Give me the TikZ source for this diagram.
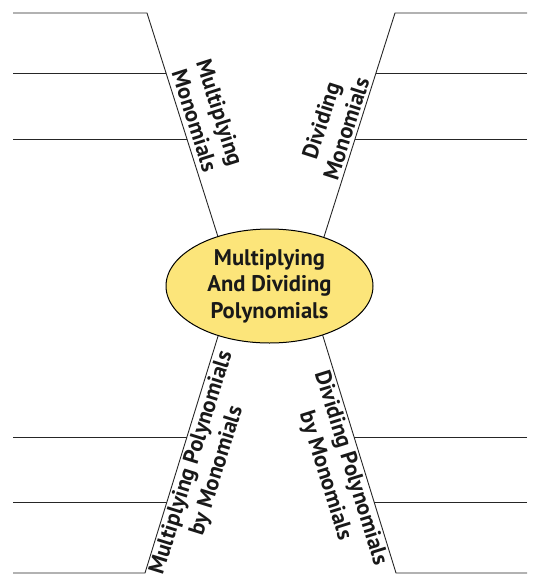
\documentclass[tikz,border=0pt]{standalone}
\usepackage{fontspec}
\setmainfont{PT Sans}
\usetikzlibrary{shapes.geometric}
\definecolor{ovalfill}{RGB}{252,229,122}
\tikzset{
  arm/.style={line width=0.9pt, draw=black!85},
  lbl/.style={font=\bfseries\fontsize{22.4}{26.5}\selectfont, align=center, inner sep=3pt, text=black!90},
  hub/.style={ellipse, draw=black, line width=1pt, fill=ovalfill, minimum width=207pt, minimum height=114pt,
    font=\bfseries\fontsize{22.6}{26.7}\selectfont, align=center, text=black!90, inner sep=0pt}
}
\begin{document}
\begin{tikzpicture}[x=1pt,y=-1pt]
\useasboundingbox (0,0) rectangle (533,576);
% top-left arm
\coordinate (tlA) at (147,13); \coordinate (tlB) at (166,73); \coordinate (tlC) at (187,139); \coordinate (tlE) at (219,240);
\coordinate (tlA') at (13,13); \coordinate (tlB') at (13,73); \coordinate (tlC') at (13,139);
% top-right arm
\coordinate (trA) at (395,13); \coordinate (trB) at (376,73); \coordinate (trC) at (355,139); \coordinate (trE) at (323,240);
\coordinate (trA') at (527,13); \coordinate (trB') at (527,73); \coordinate (trC') at (527,139);
% bottom-left arm
\coordinate (blA) at (145,573); \coordinate (blB) at (167,502); \coordinate (blC) at (187,437); \coordinate (blE) at (219,333);
\coordinate (blA') at (13,573); \coordinate (blB') at (13,502); \coordinate (blC') at (13,437);
% bottom-right arm
\coordinate (brA) at (396,573); \coordinate (brB) at (374,502); \coordinate (brC) at (354,437); \coordinate (brE) at (322,333);
\coordinate (brA') at (527,573); \coordinate (brB') at (527,502); \coordinate (brC') at (527,437);

\draw[arm] (tlA') -- (tlA) -- (tlE);
\draw[arm] (tlB') -- (tlB);
\draw[arm] (tlC') -- (tlC);
\draw[arm] (trA') -- (trA) -- (trE);
\draw[arm] (trB') -- (trB);
\draw[arm] (trC') -- (trC);
\draw[arm] (blA') -- (blA) -- (blE);
\draw[arm] (blB') -- (blB);
\draw[arm] (blC') -- (blC);
\draw[arm] (brA') -- (brA) -- (brE);
\draw[arm] (brB') -- (brB);
\draw[arm] (brC') -- (brC);

\node[hub] (hub) at (269.5,286) {Multiplying\\And Dividing\\Polynomials};

\node[lbl, rotate=-72.3, anchor=south] (lblTL) at (184,124) {Multiplying\\Monomials};
\node[lbl, rotate=72.3, anchor=south] (lblTR) at (357,132) {Dividing\\Monomials};
\node[lbl, rotate=72.7, anchor=north] (lblBL) at (179,459) {Multiplying Polynomials\\by Monomials};
\node[lbl, rotate=-72.7, anchor=north] (lblBR) at (363,464) {Dividing Polynomials\\by Monomials};
\end{tikzpicture}
\end{document}
